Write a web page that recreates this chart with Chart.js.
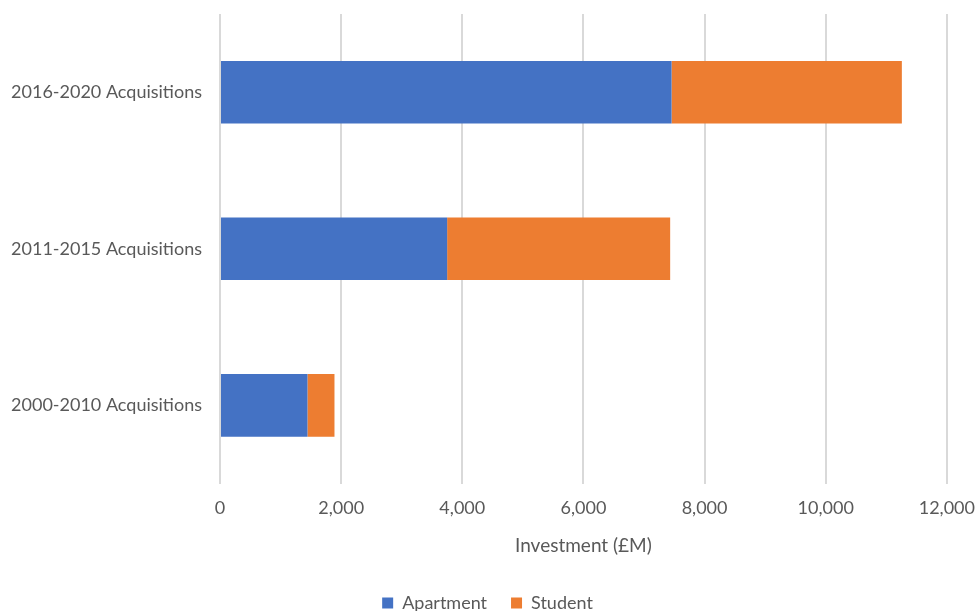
<!DOCTYPE html>
<html>
<head>
<meta charset="utf-8">
<script src="https://cdn.jsdelivr.net/npm/chart.js@4"></script>
<style>
  html, body { margin: 0; padding: 0; background: #fff; }
  #wrap { width: 975px; height: 611px; }
</style>
</head>
<body>
<div id="wrap"><canvas id="chart"></canvas></div>
<script>
// values (£M)
const categories = ['2016-2020 Acquisitions', '2011-2015 Acquisitions', '2000-2010 Acquisitions'];
const apartment = [7455, 3750, 1444];
const student = [3802, 3682, 446];
const xTicks = [0, 2000, 4000, 6000, 8000, 10000, 12000];

const textColor = '#595959';
const fontFamily = 'Lato, "Open Sans", sans-serif';

new Chart(document.getElementById('chart'), {
    type: 'bar',
    data: {
        labels: categories,
        datasets: [
            { label: 'Apartment', data: apartment, backgroundColor: '#4472C4', borderWidth: 0 },
            { label: 'Student', data: student, backgroundColor: '#ED7D31', borderWidth: 0 }
        ]
    },
    options: {
        indexAxis: 'y',
        responsive: true,
        maintainAspectRatio: false,
        animation: false,
        barPercentage: 0.4,
        categoryPercentage: 1,
        layout: { padding: { top: 14, right: 0, bottom: -11, left: 0 } },
        scales: {
            x: {
                stacked: true,
                min: 0,
                max: 12000,
                afterBuildTicks: axis => { axis.ticks = xTicks.map(v => ({ value: v })); },
                grid: { color: '#d9d9d9', lineWidth: 2, drawTicks: true, tickLength: 14, tickColor: 'rgba(0,0,0,0)' },
                border: { display: false },
                ticks: {
                    color: textColor,
                    padding: 0,
                    font: { family: fontFamily, size: 18 },
                    callback: v => v.toLocaleString('en-GB')
                },
                title: {
                    display: true,
                    text: 'Investment (£M)',
                    color: textColor,
                    font: { family: fontFamily, size: 19 },
                    padding: { top: 15, bottom: 13 }
                }
            },
            y: {
                stacked: true,
                afterFit: axis => { axis.width = 220; },
                grid: { display: true, drawOnChartArea: false, drawTicks: true, tickLength: 18, tickColor: 'rgba(0,0,0,0)' },
                border: { display: false },
                ticks: {
                    color: textColor,
                    padding: 0,
                    font: { family: fontFamily, size: 18 }
                }
            }
        },
        plugins: {
            legend: {
                position: 'bottom',
                labels: {
                    color: textColor,
                    boxWidth: 11,
                    boxHeight: 11,
                    padding: 24,
                    font: { family: fontFamily, size: 18 }
                }
            },
            tooltip: { enabled: false }
        }
    }
});
</script>
</body>
</html>
